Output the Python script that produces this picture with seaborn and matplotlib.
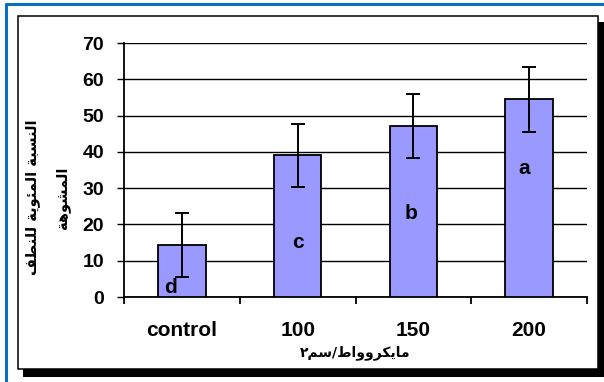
import matplotlib
matplotlib.use("Agg")
import matplotlib.pyplot as plt
from matplotlib.patches import Rectangle
from matplotlib.lines import Line2D
from matplotlib.ticker import FixedLocator
import seaborn as sns
import pandas as pd

# Data
doses = ["control", "100", "150", "200"]
abnormal_pct = [14.3, 39.0, 47.2, 54.5]
std_err = [8.8, 8.8, 8.8, 8.9]
groups = ["d", "c", "b", "a"]
group_label_y = [2.6, 14.9, 23.1, 35.4]
group_label_dx = [-0.1, 0.0, -0.02, -0.04]
y_ticks = [0, 10, 20, 30, 40, 50, 60, 70]

x_title = "مايكروواط/سم٢"
y_title = ["النسبة المئوية للنطف", "المشوهة"]

# matplotlib does no Arabic shaping: pick the contextual presentation
# forms by hand and lay the string out right-to-left.
FORMS = {
    "ا": (0xFE8D, 0xFE8E, None, None),
    "ب": (0xFE8F, 0xFE90, 0xFE91, 0xFE92),
    "ة": (0xFE93, 0xFE94, None, None),
    "ئ": (0xFE89, 0xFE8A, 0xFE8B, 0xFE8C),
    "ر": (0xFEAD, 0xFEAE, None, None),
    "س": (0xFEB1, 0xFEB2, 0xFEB3, 0xFEB4),
    "ش": (0xFEB5, 0xFEB6, 0xFEB7, 0xFEB8),
    "ط": (0xFEC1, 0xFEC2, 0xFEC3, 0xFEC4),
    "ف": (0xFED1, 0xFED2, 0xFED3, 0xFED4),
    "ك": (0xFED9, 0xFEDA, 0xFEDB, 0xFEDC),
    "ل": (0xFEDD, 0xFEDE, 0xFEDF, 0xFEE0),
    "م": (0xFEE1, 0xFEE2, 0xFEE3, 0xFEE4),
    "ن": (0xFEE5, 0xFEE6, 0xFEE7, 0xFEE8),
    "ه": (0xFEE9, 0xFEEA, 0xFEEB, 0xFEEC),
    "و": (0xFEED, 0xFEEE, None, None),
    "ي": (0xFEF1, 0xFEF2, 0xFEF3, 0xFEF4),
}


def shape(text):
    out = []
    for i, ch in enumerate(text):
        if ch not in FORMS:
            out.append(ch)
            continue
        prev = text[i - 1] if i > 0 else None
        nxt = text[i + 1] if i + 1 < len(text) else None
        iso, fin, ini, med = FORMS[ch]
        join_prev = prev in FORMS and FORMS[prev][2] is not None
        join_next = nxt in FORMS and ini is not None
        if join_prev and join_next:
            code = med
        elif join_prev:
            code = fin
        elif join_next:
            code = ini
        else:
            code = iso
        out.append(chr(code))
    return "".join(reversed(out))


sns.set_theme(style="white")
plt.rcParams["font.family"] = ["Liberation Sans", "DejaVu Sans"]
plt.rcParams["text.color"] = "black"
plt.rcParams["xtick.color"] = "black"
plt.rcParams["ytick.color"] = "black"

W, H = 604, 382
fig = plt.figure(figsize=(W / 100, H / 100), dpi=100)
fig.patch.set_facecolor("white")


def px_rect(x0, y0, x1, y1, **kw):
    return Rectangle((x0 / W, 1 - y1 / H), (x1 - x0) / W, (y1 - y0) / H,
                     transform=fig.transFigure, zorder=0.1, **kw)


# Outer blue rule, drop shadow and white chart panel
fig.add_artist(Line2D([6 / W, 6 / W], [0, 1 - 4 / H], transform=fig.transFigure,
                      color="#0A6FC2", lw=2.2, zorder=0.1))
fig.add_artist(Line2D([6 / W, 1], [1 - 4 / H, 1 - 4 / H], transform=fig.transFigure,
                      color="#0A6FC2", lw=2.2, zorder=0.1))
fig.add_artist(px_rect(23, 22, 606, 377, facecolor="black", edgecolor="none"))
fig.add_artist(px_rect(18, 16, 598, 369, facecolor="white", edgecolor="black",
                       lw=1.1))

ax = fig.add_axes([124 / W, 1 - 297 / H, (587 - 124) / W, (297 - 43) / H])
ax.set_zorder(2)
ax.set_facecolor("none")

df = pd.DataFrame({"dose": doses, "pct": abnormal_pct})
sns.barplot(data=df, x="dose", y="pct", order=doses, color="#9999FF",
            saturation=1, width=0.41, edgecolor="black", linewidth=1.3,
            errorbar=None, ax=ax, zorder=3)

xpos = list(range(len(doses)))
ax.errorbar(xpos, abnormal_pct, yerr=std_err, fmt="none", ecolor="black",
            elinewidth=1.4, capsize=5, capthick=1.4, zorder=4)

for x, dx, lab, y in zip(xpos, group_label_dx, groups, group_label_y):
    ax.text(x + dx, y, lab, ha="center", va="center", fontsize=15,
            fontweight="bold", color="black", zorder=5)

ax.set_xlim(-0.5, len(doses) - 0.5)
ax.set_ylim(0, 70)
ax.set_yticks(y_ticks)
ax.yaxis.grid(True, color="black", lw=1.0)
ax.set_axisbelow(True)

for side in ("top", "right"):
    ax.spines[side].set_visible(False)
for side in ("left", "bottom"):
    ax.spines[side].set_color("black")
    ax.spines[side].set_linewidth(1.3)

ax.tick_params(axis="y", which="major", direction="out", length=5.3, width=1.0,
               color="black", left=True, labelsize=14, pad=9)
ax.tick_params(axis="x", which="major", length=0, labelsize=15, pad=17)
ax.xaxis.set_minor_locator(FixedLocator([i - 0.5 for i in range(len(doses) + 1)]))
ax.tick_params(axis="x", which="minor", direction="out", length=5, width=1.3,
               color="black", bottom=True)
for t in ax.get_xticklabels() + ax.get_yticklabels():
    t.set_fontweight("bold")
    t.set_color("black")

ax.set_xlabel("")
ax.set_ylabel("")

fig.text(355 / W, 1 - 353 / H, shape(x_title), ha="center", va="center",
         fontsize=10, fontweight="bold", color="black", family=["DejaVu Sans"])
fig.text(33 / W, 1 - 197 / H, shape(y_title[0]), ha="center", va="center",
         rotation=90, fontsize=10.5, fontweight="bold", color="black",
         family=["DejaVu Sans"])
fig.text(63 / W, 1 - 198 / H, shape(y_title[1]), ha="center", va="center",
         rotation=90, fontsize=10.5, fontweight="bold", color="black",
         family=["DejaVu Sans"])

fig.savefig("out.png", dpi=100)
